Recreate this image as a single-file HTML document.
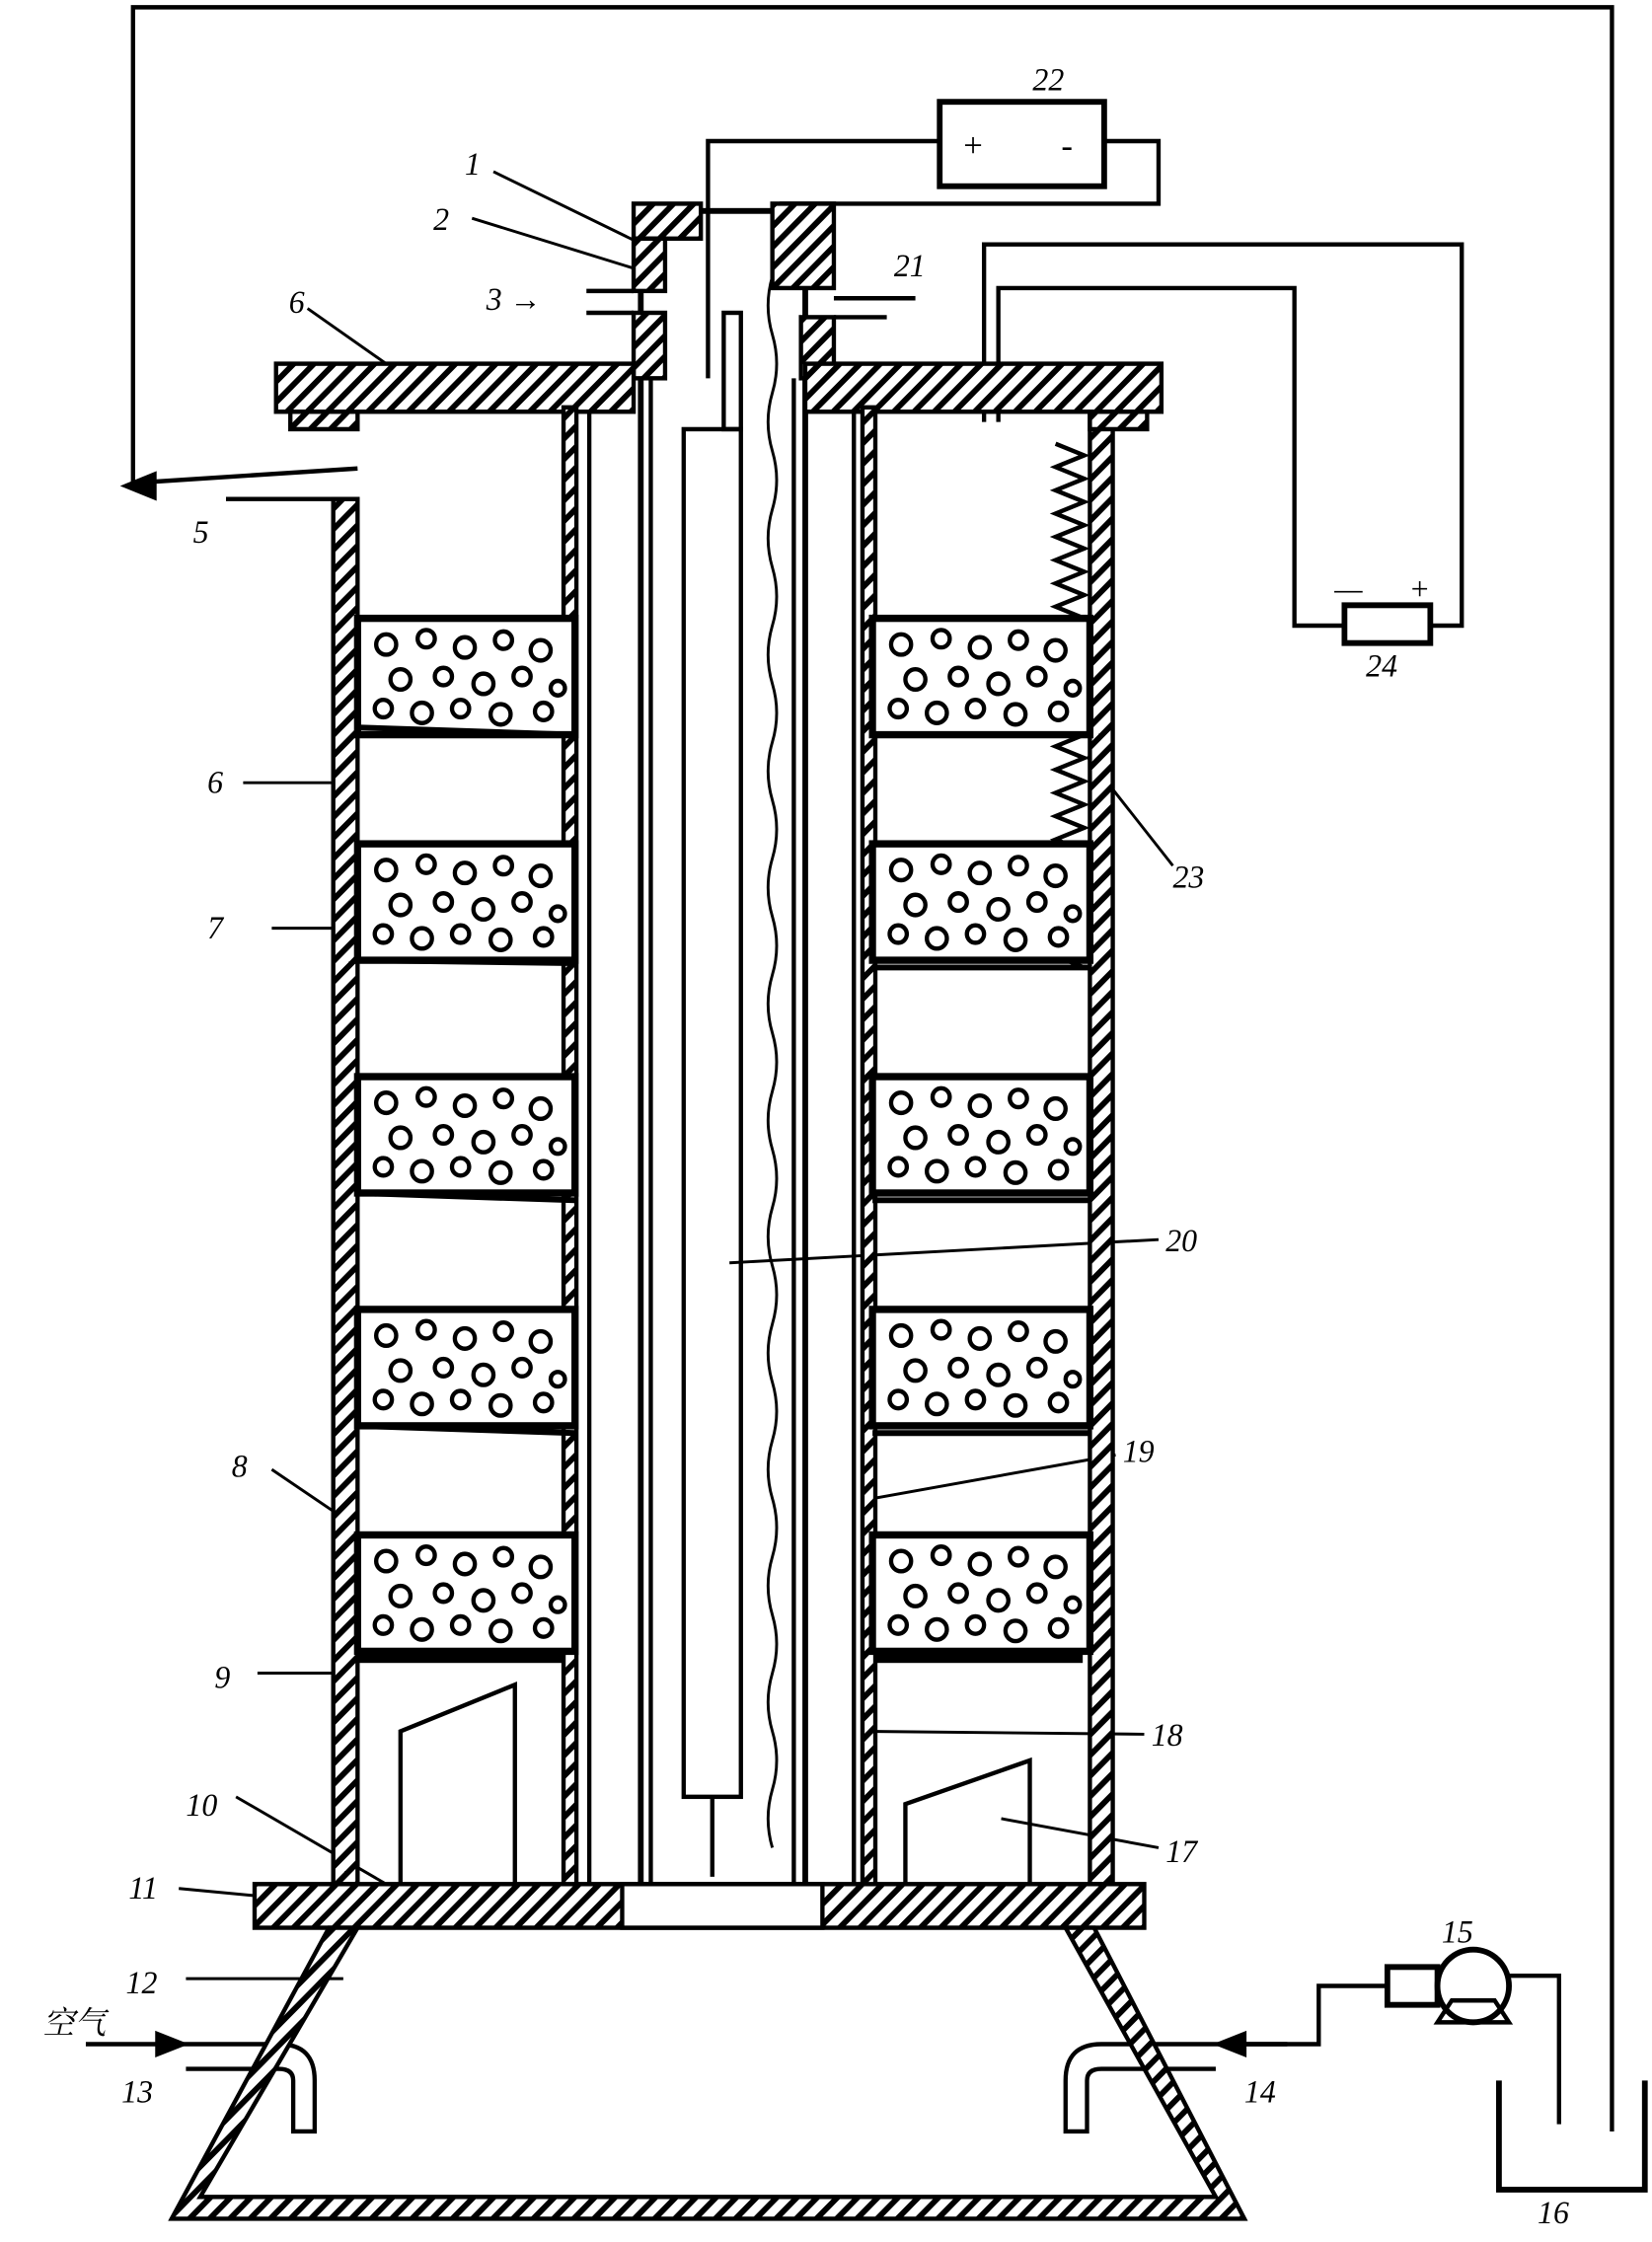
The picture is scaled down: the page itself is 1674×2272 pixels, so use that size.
<!DOCTYPE html>
<html><head><meta charset="utf-8"><style>
html,body{margin:0;padding:0;background:#fff}
svg{display:block}
text{font-family:"Liberation Serif","Noto Serif CJK SC",serif;font-style:italic;font-size:22px;fill:#000}
</style></head><body>
<svg width="1674" height="2272" viewBox="0 0 1155 1541" preserveAspectRatio="none" xmlns="http://www.w3.org/2000/svg">
<defs>
<pattern id="h" width="10" height="10" patternUnits="userSpaceOnUse" patternTransform="rotate(45)">
<rect width="10" height="10" fill="#fff"/><rect width="4" height="10" fill="#000"/></pattern>
<g id="bed">
<rect x="0" y="0" width="152" height="80" fill="#fff" stroke="#000" stroke-width="5"/>
<g fill="none" stroke="#000" stroke-width="3">
<circle cx="20" cy="18" r="7"/><circle cx="48" cy="14" r="6"/><circle cx="75" cy="20" r="7"/><circle cx="102" cy="15" r="6"/><circle cx="128" cy="22" r="7"/>
<circle cx="30" cy="42" r="7"/><circle cx="60" cy="40" r="6"/><circle cx="88" cy="45" r="7"/><circle cx="115" cy="40" r="6"/><circle cx="140" cy="48" r="5"/>
<circle cx="18" cy="62" r="6"/><circle cx="45" cy="65" r="7"/><circle cx="72" cy="62" r="6"/><circle cx="100" cy="66" r="7"/><circle cx="130" cy="64" r="6"/>
</g></g>
</defs>
<g fill="none" stroke="#000" stroke-width="3">
<polyline points="93,332 93,5 1127,5 1127,1465"/>
<line x1="93" y1="332" x2="250" y2="322"/>
<polygon points="88,334 108,326 108,342" fill="#000"/>
<line x1="158" y1="343" x2="250" y2="343"/>
<rect x="657" y="70" width="115" height="58" stroke-width="4"/>
<polyline points="657,97 495,97 495,260"/>
<polyline points="772,97 810,97 810,140 545,140"/>
<polyline points="688,290 688,168 1022,168 1022,430 1000,430"/>
<polyline points="698,290 698,198 905,198 905,430 940,430"/>
<rect x="940" y="416" width="60" height="26" stroke-width="4"/>
<rect x="448" y="145" width="115" height="1165" stroke-width="4"/>
<rect x="478" y="295" width="40" height="940" stroke-width="3"/>
<path d="M455,260 V1300 H555 V260" stroke-width="3"/>
<path d="M540,150 q6,20 0,40 q-6,20 0,40 q6,20 0,40 q-6,20 0,40 q6,20 0,40 q-6,20 0,40 q6,20 0,40 q-6,20 0,40 q6,20 0,40 q-6,20 0,40 q6,20 0,40 q-6,20 0,40 q6,20 0,40 q-6,20 0,40 q6,20 0,40 q-6,20 0,40 q6,20 0,40 q-6,20 0,40 q6,20 0,40 q-6,20 0,40 q6,20 0,40 q-6,20 0,40 q6,20 0,40 q-6,20 0,40 q6,20 0,40 q-6,20 0,40 q6,20 0,40 q-6,20 0,40" stroke-width="2"/>
<rect x="506" y="215" width="12" height="80" stroke-width="3"/>
<line x1="498" y1="1235" x2="498" y2="1290"/>
<line x1="412" y1="265" x2="412" y2="1300"/><line x1="597" y1="265" x2="597" y2="1300"/>
<line x1="410" y1="200" x2="443" y2="200"/><line x1="410" y1="215" x2="443" y2="215"/>
<line x1="583" y1="205" x2="640" y2="205"/><line x1="583" y1="218" x2="620" y2="218"/>
<polyline points="280,1295 280,1190 360,1158 360,1295"/>
<polyline points="633,1295 633,1240 720,1210 720,1295"/>
<path d="M60,1405 H195 Q220,1405 220,1430 V1465 H205 V1430 Q205,1422 195,1422 H130"/>
<polygon points="128,1405 110,1398 110,1412" fill="#000"/>
<path d="M900,1405 H770 Q745,1405 745,1430 V1465 H760 V1430 Q760,1422 770,1422 H850"/>
<polygon points="852,1405 870,1398 870,1412" fill="#000"/>
<circle cx="1030" cy="1365" r="25" stroke-width="4"/>
<rect x="970" y="1352" width="35" height="26" stroke-width="4"/>
<polygon points="1005,1390 1055,1390 1045,1375 1015,1375" stroke-width="3"/>
<polyline points="970,1365 922,1365 922,1405 860,1405"/>
<polyline points="1055,1358 1090,1358 1090,1460"/>
<polyline points="1048,1430 1048,1505 1150,1505 1150,1430" stroke-width="4"/>
<path d="M738,305 l20,8 l-20,8 l20,8 l-20,8 l20,8 l-20,8 l20,8 l-20,8 l20,8 l-20,8 l20,8 l-20,8 l20,8 l-20,8 l20,8 l-20,8 l20,8 l-20,8 l20,8 l-20,8 l20,8 l-20,8 l20,8 l-20,8 l20,8 l-20,8 l20,8 l-20,8 l20,8 l-20,8 l20,8 l-20,8 l20,8 l-20,8 l20,8 l-20,8 l20,8 l-20,8 l20,8 l-20,8 l20,8 l-20,8 l20,8 l-20,8 l20,8" stroke-width="3"/>
<line x1="345" y1="118" x2="443" y2="165" stroke-width="2"/>
<line x1="330" y1="150" x2="445" y2="185" stroke-width="2"/>
<line x1="215" y1="212" x2="270" y2="250" stroke-width="2"/>
<line x1="170" y1="538" x2="235" y2="538" stroke-width="2"/>
<line x1="190" y1="638" x2="255" y2="638" stroke-width="2"/>
<line x1="190" y1="1010" x2="250" y2="1050" stroke-width="2"/>
<line x1="180" y1="1150" x2="240" y2="1150" stroke-width="2"/>
<line x1="165" y1="1235" x2="270" y2="1295" stroke-width="2"/>
<line x1="125" y1="1298" x2="200" y2="1305" stroke-width="2"/>
<line x1="130" y1="1360" x2="240" y2="1360" stroke-width="2"/>
<line x1="510" y1="868" x2="810" y2="852" stroke-width="2"/>
<line x1="610" y1="1030" x2="780" y2="1000" stroke-width="2"/>
<line x1="605" y1="1190" x2="800" y2="1192" stroke-width="2"/>
<line x1="700" y1="1250" x2="810" y2="1270" stroke-width="2"/>
<line x1="760" y1="520" x2="820" y2="595" stroke-width="2"/>
</g>
<g stroke="#000" stroke-width="3" fill="url(#h)">
<rect x="443" y="140" width="47" height="24"/><rect x="443" y="164" width="22" height="36"/><rect x="443" y="215" width="22" height="45"/>
<rect x="540" y="140" width="43" height="58"/><rect x="560" y="218" width="23" height="42"/>
<rect x="193" y="250" width="250" height="33"/><rect x="563" y="250" width="249" height="33"/>
<rect x="233" y="343" width="17" height="952"/><rect x="762" y="283" width="16" height="1012"/>
<rect x="203" y="283" width="47" height="12"/><rect x="762" y="283" width="40" height="12"/>
<rect x="394" y="280" width="9" height="1020"/><rect x="603" y="280" width="9" height="1020"/>
<rect x="178" y="1295" width="622" height="30"/>
<polygon points="230,1325 250,1325 140,1510 850,1510 745,1325 765,1325 870,1525 120,1525"/>
</g>
<rect x="435" y="1295" width="140" height="30" fill="#fff" stroke="#000" stroke-width="3"/>
<use href="#bed" x="250" y="425"/><use href="#bed" x="250" y="580"/><use href="#bed" x="250" y="740"/><use href="#bed" x="250" y="900"/><use href="#bed" x="250" y="1055"/>
<use href="#bed" x="610" y="425"/><use href="#bed" x="610" y="580"/><use href="#bed" x="610" y="740"/><use href="#bed" x="610" y="900"/><use href="#bed" x="610" y="1055"/>
<g fill="none" stroke="#000" stroke-width="4">
<line x1="250" y1="500" x2="402" y2="505"/><line x1="250" y1="660" x2="402" y2="662"/><line x1="250" y1="820" x2="402" y2="825"/><line x1="250" y1="980" x2="402" y2="985"/>
<line x1="610" y1="505" x2="762" y2="505"/><line x1="610" y1="665" x2="762" y2="665"/><line x1="610" y1="825" x2="762" y2="825"/><line x1="610" y1="985" x2="762" y2="985"/>
</g>
<rect x="250" y="1135" width="145" height="8" fill="#000"/><rect x="612" y="1135" width="145" height="8" fill="#000"/>
<text x="722" y="62">22</text><text x="672" y="108" style="font-size:24px">+</text><text x="742" y="108" style="font-size:24px">-</text>
<text x="325" y="120">1</text><text x="303" y="158">2</text><text x="340" y="213">3 →</text><text x="625" y="190">21</text>
<text x="202" y="215">6</text><text x="135" y="373">5</text><text x="145" y="545">6</text><text x="145" y="645">7</text>
<text x="162" y="1015">8</text><text x="150" y="1160">9</text><text x="130" y="1248">10</text><text x="90" y="1305">11</text>
<text x="88" y="1370">12</text><text x="30" y="1398">空气</text><text x="85" y="1445">13</text><text x="870" y="1445">14</text>
<text x="1008" y="1335">15</text><text x="1075" y="1528">16</text><text x="815" y="1280">17</text><text x="805" y="1200">18</text>
<text x="785" y="1005">19</text><text x="815" y="860">20</text><text x="820" y="610">23</text><text x="955" y="465">24</text>
<text x="933" y="412">—</text><text x="985" y="412">+</text>
</svg>
</body></html>
